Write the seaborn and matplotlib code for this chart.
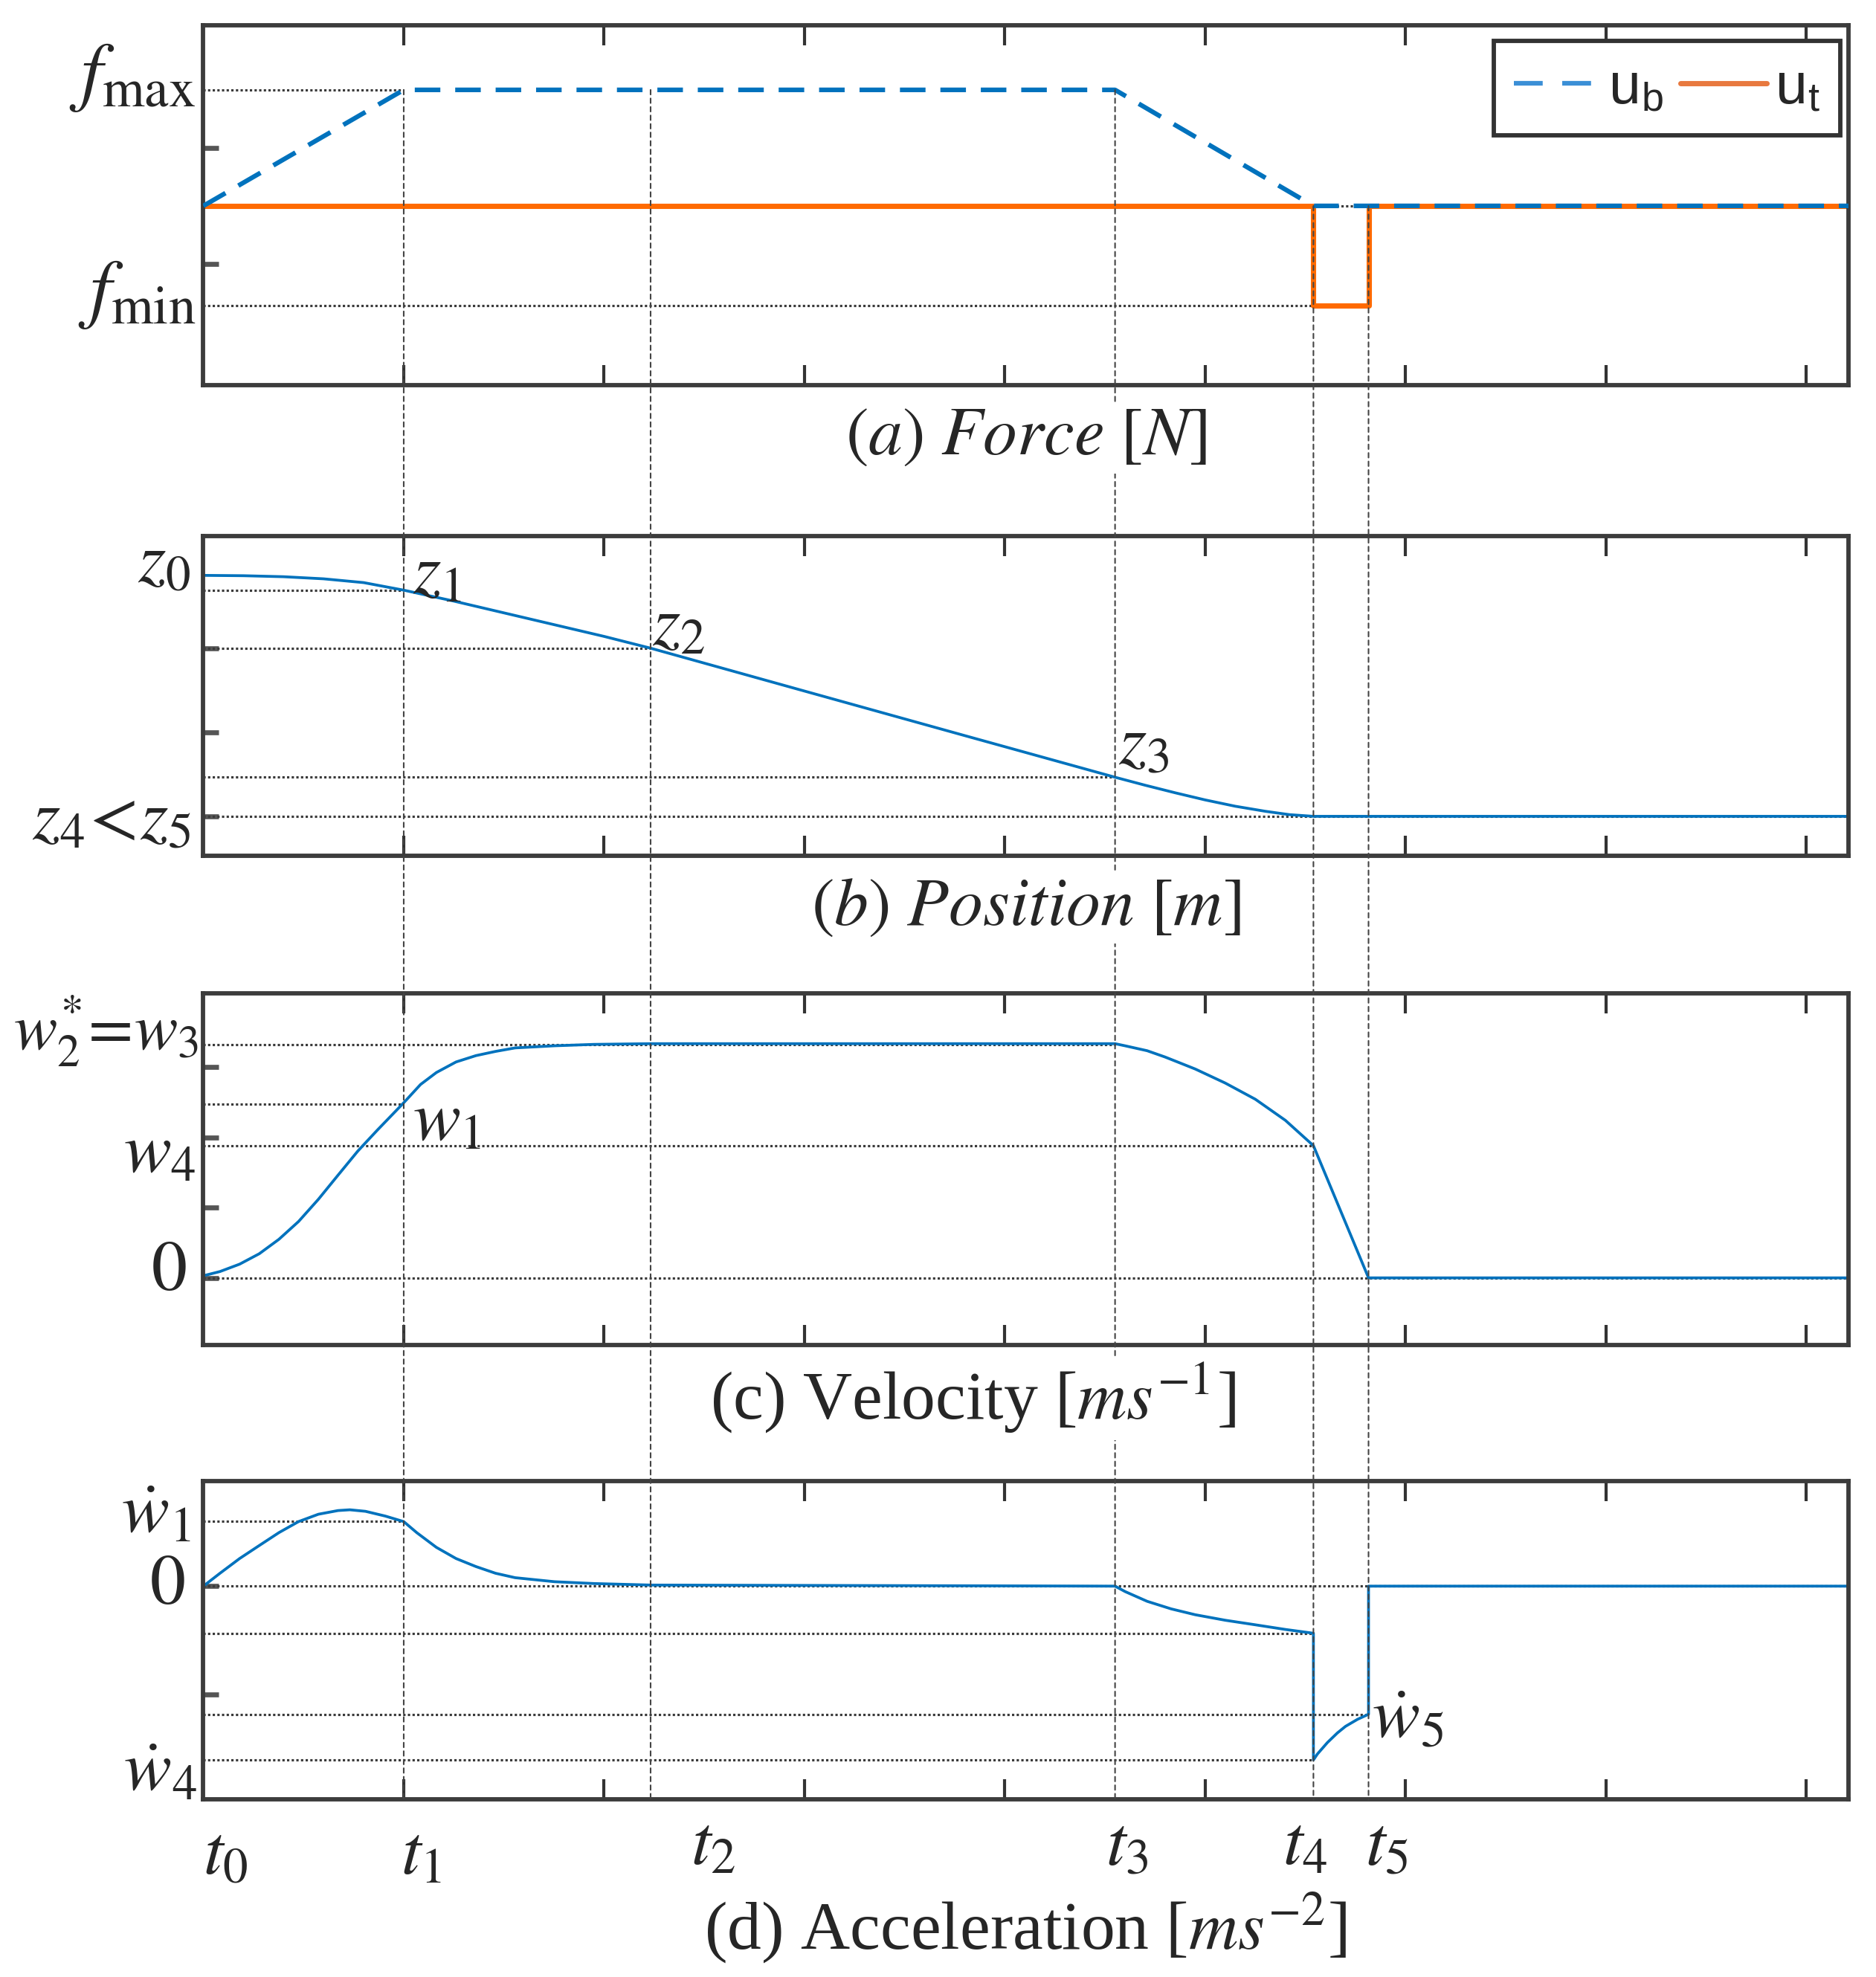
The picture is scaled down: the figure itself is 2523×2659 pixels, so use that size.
import matplotlib
matplotlib.use("Agg")
import matplotlib.pyplot as plt
from matplotlib.patches import ConnectionPatch
import numpy as np
import seaborn as sns

# %% data (time axis: ticks at 1..8)
t_marks = [0.0, 1.0, 2.232, 4.55, 5.54, 5.815]
t_names = ["$t_0$", "$t_1$", "$t_2$", "$t_3$", "$t_4$", "$t_5$"]
t_end = 8.21

# (a) force
f_max, f_min = 1.0, -0.86
ub_t = [0.0, 1.0, 4.55, 5.54, t_end]
ub_v = [0.0, f_max, f_max, 0.0, 0.0]
ut_t = [0.0, 5.54, 5.54, 5.815, 5.815, t_end]
ut_v = [0.0, 0.0, f_min, f_min, 0.0, 0.0]

# (b) position
pos_t = [0.0, 0.2, 0.4, 0.6, 0.8, 1.0, 1.25, 1.5, 1.75, 2.0, 2.232, 3.0, 3.8, 4.55,
         4.7, 4.85, 5.0, 5.15, 5.3, 5.42, 5.54, t_end]
pos_z = [2.866, 2.862, 2.85, 2.825, 2.78, 2.69, 2.56, 2.42, 2.28, 2.14, 2.0, 1.49, 0.96,
         0.465, 0.37, 0.28, 0.195, 0.12, 0.06, 0.02, 0.0, 0.0]
z0, z1, z2, z3, z4 = 2.866, 2.69, 2.0, 0.465, 0.0

# (c) velocity
vel_t = [0.0, 0.083, 0.181, 0.279, 0.377, 0.475, 0.574, 0.672, 0.770, 0.809, 0.868,
         1.0, 1.084, 1.163, 1.261, 1.360, 1.458, 1.556, 1.752, 1.949, 2.232, 4.55,
         4.6, 4.71, 4.8, 4.95, 5.1, 5.25, 5.4, 5.54, 5.815, t_end]
vel_w = [0.03, 0.09, 0.195, 0.343, 0.548, 0.801, 1.117, 1.46, 1.80, 1.92, 2.10,
         2.49, 2.75, 2.92, 3.07, 3.16, 3.22, 3.27, 3.30, 3.32, 3.33, 3.33,
         3.30, 3.23, 3.14, 2.97, 2.77, 2.54, 2.24, 1.88, 0.0, 0.0]
w1, w3, w4 = 2.47, 3.32, 1.88

# (d) acceleration
acc_t = [0.0, 0.083, 0.181, 0.279, 0.377, 0.475, 0.574, 0.672, 0.731, 0.809, 0.908,
         1.0, 1.065, 1.163, 1.261, 1.360, 1.458, 1.556, 1.752, 1.949, 2.232, 4.55,
         4.6, 4.71, 4.83, 4.95, 5.1, 5.25, 5.4, 5.54, 5.54, 5.56, 5.61, 5.66, 5.70,
         5.76, 5.815, 5.815, t_end]
acc_a = [0.0, 0.119, 0.255, 0.375, 0.494, 0.596, 0.664, 0.698, 0.705, 0.691, 0.647,
         0.596, 0.494, 0.358, 0.255, 0.181, 0.119, 0.078, 0.041, 0.024, 0.01, 0.0,
         -0.05, -0.14, -0.21, -0.264, -0.315, -0.357, -0.40, -0.435, -1.605, -1.55,
         -1.444, -1.355, -1.295, -1.23, -1.183, 0.0, 0.0]
dw1, dw_pre4, dw5, dw4 = 0.596, -0.435, -1.183, -1.605

# %% style
sns.set_style("white")
plt.rcParams["font.family"] = ["Liberation Serif", "DejaVu Serif"]
plt.rcParams["mathtext.fontset"] = "stix"

BLUE = "#0072BD"
ORANGE = "#FF6A00"
GUIDE = "#3a3a3a"
DOT = (0, (1, 1))
LBL = 23

fig = plt.figure(figsize=(2523 / 300, 2659 / 300), dpi=300)
left, width = 0.1084, 0.8769
ax_a = fig.add_axes([left, 0.8052, width, 0.1822])
ax_b = fig.add_axes([left, 0.5671, width, 0.1616])
ax_c = fig.add_axes([left, 0.3197, width, 0.1780])
ax_d = fig.add_axes([left, 0.0898, width, 0.1612])
axes = [ax_a, ax_b, ax_c, ax_d]

ylims = [(-1.545, 1.56), (-0.47, 3.33), (-0.954, 4.05), (-1.97, 0.973)]
yticks = [[-0.5, 0.5], [0, 1, 2], [0, 1, 2, 3], [-1, 0]]
for ax, yl, yt in zip(axes, ylims, yticks):
    ax.set_xlim(0, t_end)
    ax.set_ylim(*yl)
    ax.set_xticks(range(1, 9))
    ax.set_yticks(yt)
    ax.tick_params(axis="x", direction="in", top=True, bottom=True, length=6.5,
                   width=1.0, color="#333333", labelbottom=False)
    ax.tick_params(axis="y", direction="in", left=True, right=False, length=5,
                   width=1.6, color="#555555", labelleft=False)
    for s in ax.spines.values():
        s.set_linewidth(1.4)
        s.set_color("#3c3c3c")


def guide(ax, y, x0, x1):
    ax.hlines(y, x0, x1, colors=GUIDE, linestyles=DOT, lw=0.75, zorder=1.5)


def side_label(ax, text, level, dx, dy, size=LBL):
    ax.annotate(text, xy=(0, level), xycoords=("axes fraction", "data"),
                xytext=(dx, dy), textcoords="offset points", ha="right",
                va="center", fontsize=size)


def point_label(ax, text, x, level, dx, dy):
    ax.annotate(text, xy=(x, level), xytext=(dx, dy), textcoords="offset points",
                ha="left", va="center", fontsize=LBL)


# %% (a) force
guide(ax_a, f_max, 0, t_marks[1])
guide(ax_a, f_min, 0, t_marks[4])
guide(ax_a, 0, t_marks[4], t_end)
sns.lineplot(x=ub_t, y=ub_v, ax=ax_a, color=BLUE, lw=1.5, linestyle=(0, (5.5, 3.2)),
             estimator=None, sort=False, label=r"u$_\mathregular{b}$", zorder=3)
sns.lineplot(x=ut_t, y=ut_v, ax=ax_a, color=ORANGE, lw=1.7,
             estimator=None, sort=False, label=r"u$_\mathregular{t}$", zorder=2.5)
leg = ax_a.legend(loc="upper right", bbox_to_anchor=(0.995, 0.955), ncol=2,
                  borderaxespad=0, fancybox=False, framealpha=1, edgecolor="#333333",
                  prop={"family": "Liberation Sans", "size": 18.5},
                  handlelength=1.5, handletextpad=0.15, columnspacing=0.3,
                  borderpad=0.35)
leg.get_frame().set_linewidth(1.4)
leg.get_lines()[0].set_color("#3B8FD6")
leg.get_lines()[0].set_linestyle((0, (6.2, 4.2)))
leg.get_lines()[1].set_color("#E8793F")
side_label(ax_a, r"$f_{\max}$", f_max, -2.5, 4, 25)
side_label(ax_a, r"$f_{\min}$", f_min, -2.5, 3.5, 25)

# %% (b) position
for z, t in [(z1, t_marks[1]), (z2, t_marks[2]), (z3, t_marks[3]), (z4, t_end)]:
    guide(ax_b, z, 0, t)
sns.lineplot(x=pos_t, y=pos_z, ax=ax_b, color=BLUE, lw=0.9, estimator=None,
             sort=False, zorder=2.5)
side_label(ax_b, r"$z_0$", z0, -4, 3.6)
side_label(ax_b, r"$z_4\!<\!z_5$", z4, -4, -1.7)
point_label(ax_b, r"$z_1$", t_marks[1], z1, 3, 4.8)
point_label(ax_b, r"$z_2$", t_marks[2], z2, 0.5, 6.6)
point_label(ax_b, r"$z_3$", t_marks[3], z3, 1, 10)

# %% (c) velocity
guide(ax_c, w3, 0, t_marks[3])
guide(ax_c, w1, 0, t_marks[1])
guide(ax_c, w4, 0, t_marks[4])
guide(ax_c, 0, 0, t_end)
sns.lineplot(x=vel_t, y=vel_w, ax=ax_c, color=BLUE, lw=0.9, estimator=None,
             sort=False, zorder=2.5)
side_label(ax_c, r"$w_2^{*}\!=\!w_3$", w3, -1.5, 4.4, 21)
side_label(ax_c, r"$w_4$", w4, -2.5, -2.9)
side_label(ax_c, r"$0$", 0, -5.4, 1.6)
point_label(ax_c, r"$w_1$", t_marks[1], w1, 3, -6)

# %% (d) acceleration
guide(ax_d, dw1, 0, t_marks[1])
guide(ax_d, 0, 0, t_end)
guide(ax_d, dw_pre4, 0, t_marks[4])
guide(ax_d, dw5, 0, t_marks[5])
guide(ax_d, dw4, 0, t_marks[4])
sns.lineplot(x=acc_t, y=acc_a, ax=ax_d, color=BLUE, lw=0.9, estimator=None,
             sort=False, zorder=2.5)
side_label(ax_d, r"$\dot{w}_1$", dw1, -4, 2)
side_label(ax_d, r"$0$", 0, -6, 0)
side_label(ax_d, r"$\dot{w}_4$", dw4, -2, -4.4)
point_label(ax_d, r"$\dot{w}_5$", t_marks[5], dw5, 1, -2)

t_dx = [0, -1, 13, -3, -10, -1]
t_dy = [-8, -8, -5, -5, -5, -5]
for t, name, dx, dy in zip(t_marks, t_names, t_dx, t_dy):
    ax_d.annotate(name, xy=(t, 0), xycoords=("data", "axes fraction"),
                  xytext=(dx, dy), textcoords="offset points", ha="left", va="top",
                  fontsize=LBL)

# %% vertical guides from the force panel down to the acceleration panel
for t in t_marks[1:]:
    y_top = np.interp(t, ub_t, ub_v)
    con = ConnectionPatch(xyA=(t, y_top), coordsA="data", axesA=ax_a,
                          xyB=(t, ylims[3][0]), coordsB="data", axesB=ax_d,
                          color="#444444", lw=0.5, linestyle=(0, (3, 2.5)), zorder=1)
    fig.add_artist(con)

# %% panel captions
captions = [r"$(a)\ Force\ [N]$", r"$(b)\ Position\ [m]$",
            r"(c) Velocity [$ms^{-1}$]", r"(d) Acceleration [$ms^{-2}$]"]
cap_x = [0.5, 0.5, 0.468, 0.5]
cap_y = [-0.1466, -0.163, -0.152, -0.406]
for ax, cap, cx, cy in zip(axes, captions, cap_x, cap_y):
    fig.text(cx, cy, cap, transform=ax.transAxes, ha="center", va="center",
             fontsize=22, zorder=5,
             bbox=dict(facecolor="white", edgecolor="none", pad=1.5))

fig.savefig("out.png", dpi=300)
